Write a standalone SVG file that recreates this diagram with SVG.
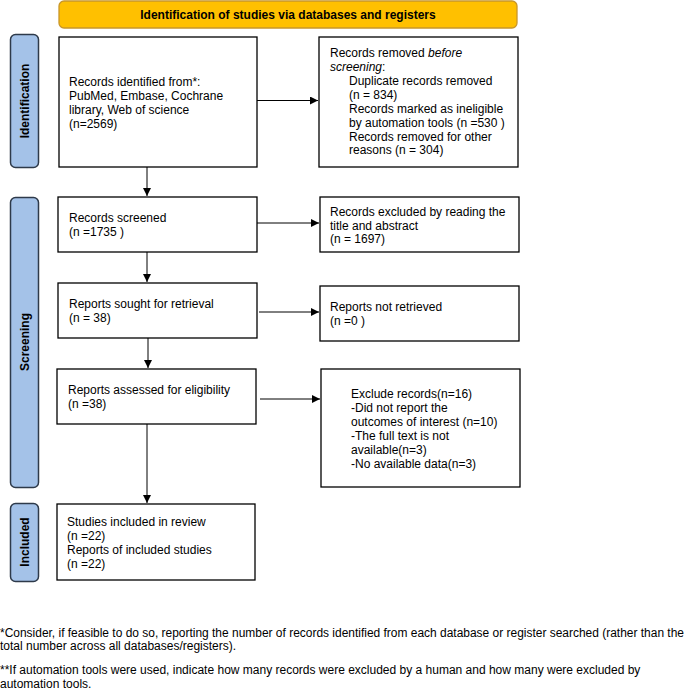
<svg xmlns="http://www.w3.org/2000/svg" width="685" height="690" viewBox="0 0 685 690">
<style>
.t{font-family:"Liberation Sans",Arial,sans-serif;font-size:12px;fill:#000}
.b{font-weight:bold}
.box{fill:#fff;stroke:#000;stroke-width:1.3}
.side{fill:#a4c2e8;stroke:#2e3a4a;stroke-width:1.5}
.ban{fill:#ffc000;stroke:#c8962a;stroke-width:1.3}
.c{stroke:#000;stroke-width:1;fill:none;marker-end:url(#ah)}
</style>
<defs>
<marker id="ah" markerWidth="8" markerHeight="8" refX="8" refY="4" orient="auto" markerUnits="userSpaceOnUse">
<path d="M0,0 L8,4 L0,8 Z" fill="#000"/>
</marker>
</defs>
<rect width="685" height="690" fill="#fff"/>
<g id="banner">
<rect class="ban" x="59" y="1" width="458" height="27" rx="5"/>
<text class="t b" x="288" y="19" text-anchor="middle">Identification of studies via databases and registers</text>
</g>
<g id="side-identification">
<rect class="side" x="10.5" y="34.5" width="28" height="133" rx="5"/>
<text class="t b" transform="translate(28.5,101) rotate(-90)" text-anchor="middle">Identification</text>
</g>
<g id="side-screening">
<rect class="side" x="10.5" y="197.5" width="28" height="290" rx="5"/>
<text class="t b" transform="translate(28.5,342) rotate(-90)" text-anchor="middle">Screening</text>
</g>
<g id="side-included">
<rect class="side" x="10.5" y="503.5" width="28" height="78" rx="5"/>
<text class="t b" transform="translate(28.5,542) rotate(-90)" text-anchor="middle">Included</text>
</g>
<g id="identified">
<rect class="box" x="59" y="37" width="198" height="130"/>
<text class="t" x="69" y="86">Records identified from*:</text>
<text class="t" x="69" y="100">PubMed, Embase, Cochrane</text>
<text class="t" x="69" y="113.5">library, Web of science</text>
<text class="t" x="69" y="127.5">(n=2569)</text>
</g>
<g id="removed">
<rect class="box" x="319" y="37" width="199" height="130"/>
<text class="t" x="330" y="57">Records removed <tspan font-style="italic">before</tspan></text>
<text class="t" x="330" y="71"><tspan font-style="italic">screening</tspan>:</text>
<text class="t" x="349" y="85">Duplicate records removed</text>
<text class="t" x="349" y="99">(n = 834)</text>
<text class="t" x="349" y="113">Records marked as ineligible</text>
<text class="t" x="349" y="126.5">by automation tools (n =530 )</text>
<text class="t" x="349" y="140.5">Records removed for other</text>
<text class="t" x="349" y="154">reasons (n = 304)</text>
</g>
<g id="screened">
<rect class="box" x="58" y="197" width="199" height="55"/>
<text class="t" x="69" y="222">Records screened</text>
<text class="t" x="69" y="236">(n =1735 )</text>
</g>
<g id="excluded-title">
<rect class="box" x="320" y="197" width="199" height="55"/>
<text class="t" x="330" y="216">Records excluded by reading the</text>
<text class="t" x="330" y="229.5">title and abstract</text>
<text class="t" x="330" y="243">(n = 1697)</text>
</g>
<g id="sought">
<rect class="box" x="58" y="283" width="199" height="55"/>
<text class="t" x="69" y="308">Reports sought for retrieval</text>
<text class="t" x="69" y="322">(n = 38)</text>
</g>
<g id="not-retrieved">
<rect class="box" x="320" y="286" width="199" height="55"/>
<text class="t" x="330" y="311">Reports not retrieved</text>
<text class="t" x="330" y="324.5">(n =0 )</text>
</g>
<g id="assessed">
<rect class="box" x="57" y="369" width="199" height="55"/>
<text class="t" x="68" y="394">Reports assessed for eligibility</text>
<text class="t" x="68" y="408">(n =38)</text>
</g>
<g id="excluded-full">
<rect class="box" x="321" y="369" width="199" height="118"/>
<text class="t" x="351" y="398">Exclude records(n=16)</text>
<text class="t" x="351" y="412">-Did not report the</text>
<text class="t" x="351" y="426">outcomes of interest (n=10)</text>
<text class="t" x="351" y="440">-The full text is not</text>
<text class="t" x="351" y="453.5">available(n=3)</text>
<text class="t" x="351" y="467.5">-No available data(n=3)</text>
</g>
<g id="included">
<rect class="box" x="57" y="504" width="198" height="76"/>
<text class="t" x="67" y="526">Studies included in review</text>
<text class="t" x="67" y="540">(n =22)</text>
<text class="t" x="67" y="553.5">Reports of included studies</text>
<text class="t" x="67" y="567.5">(n =22)</text>
</g>
<g id="connectors">
<line class="c" x1="257" y1="100.5" x2="318" y2="100.5"/>
<line class="c" x1="147" y1="167" x2="147" y2="196"/>
<line class="c" x1="257" y1="223" x2="319" y2="223"/>
<line class="c" x1="147" y1="252" x2="147" y2="282"/>
<line class="c" x1="259" y1="312" x2="319" y2="312"/>
<line class="c" x1="148" y1="338" x2="148" y2="368"/>
<line class="c" x1="260" y1="399" x2="320" y2="399"/>
<line class="c" x1="147" y1="424" x2="147" y2="503"/>
</g>
<g id="footnotes">
<text class="t" x="0" y="637" textLength="684" lengthAdjust="spacingAndGlyphs">*Consider, if feasible to do so, reporting the number of records identified from each database or register searched (rather than the</text>
<text class="t" x="0" y="650">total number across all databases/registers).</text>
<text class="t" x="0" y="674">**If automation tools were used, indicate how many records were excluded by a human and how many were excluded by</text>
<text class="t" x="0" y="687.5">automation tools.</text>
</g>
</svg>
